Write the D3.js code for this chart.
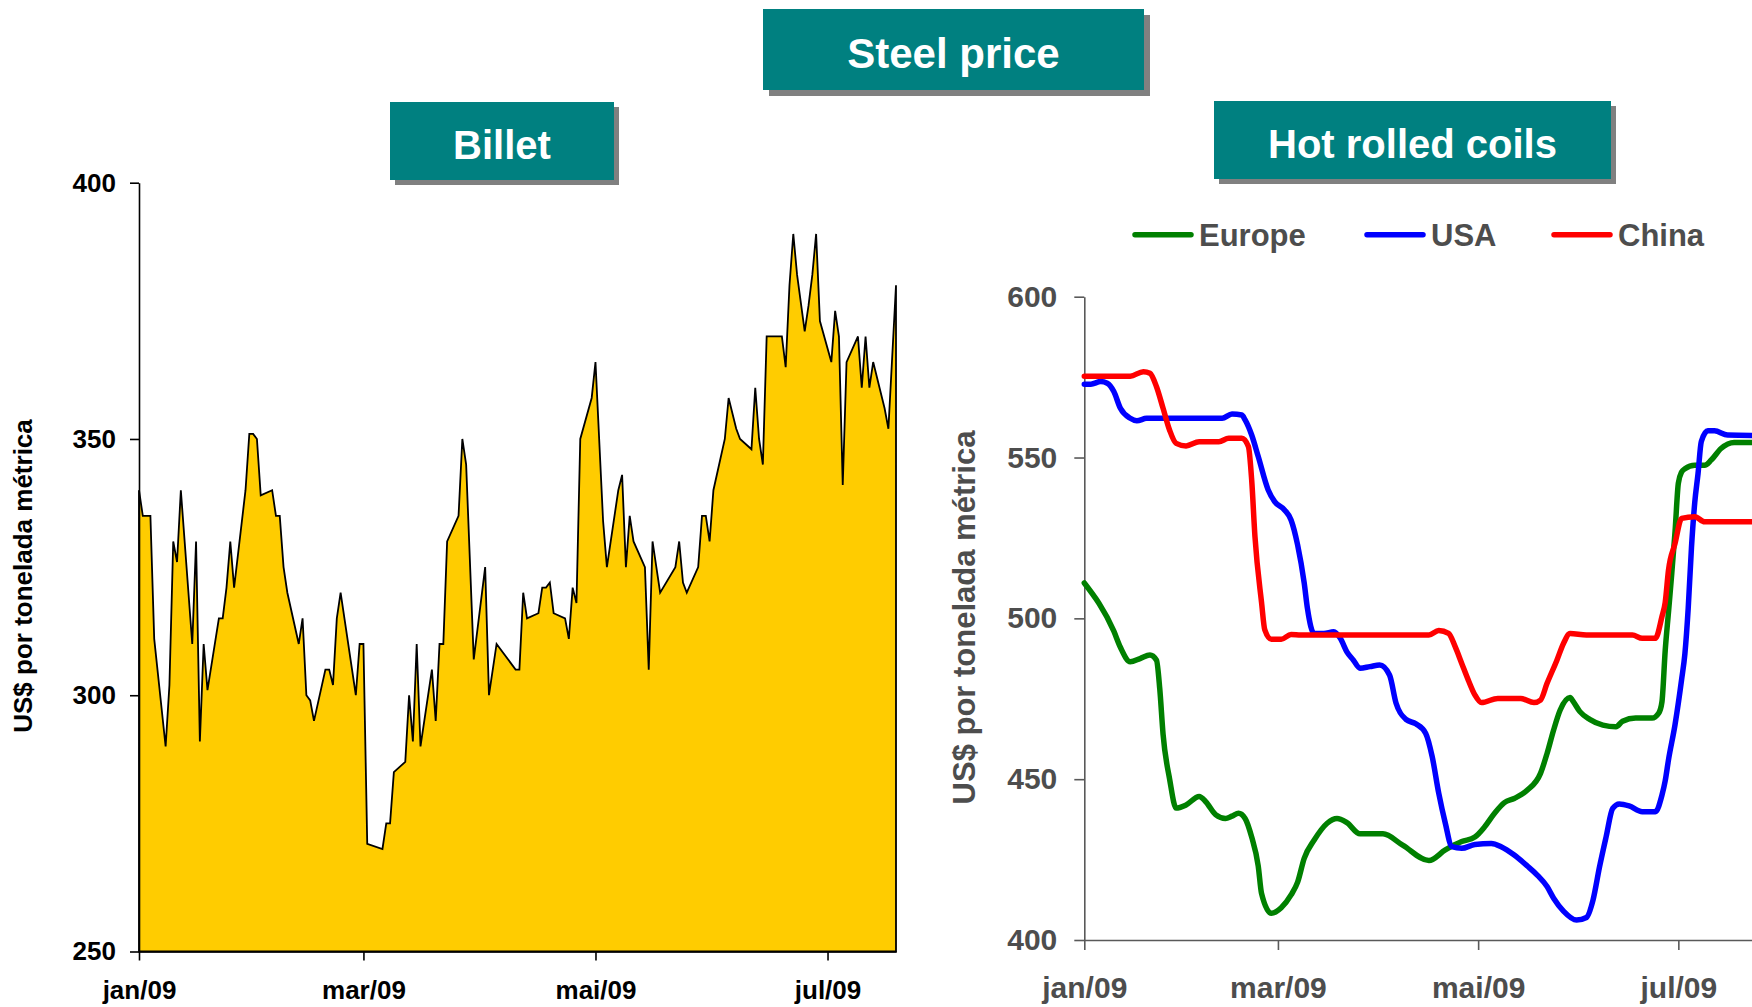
<!DOCTYPE html>
<html>
<head>
<meta charset="utf-8">
<script src="https://cdn.jsdelivr.net/npm/d3@7"></script>
<style>
  html, body { margin: 0; padding: 0; background: #fff; }
  svg { display: block; font-family: "Liberation Sans", Arial, Helvetica, sans-serif; font-weight: bold; }
</style>
</head>
<body>
<svg id="chart" width="1752" height="1007"></svg>
<script>
// ---- Billet price (US$ per metric tonne), days counted from 1 Jan 2009 ----
const billetDay = [0,1,3,4,7,8,9,10,11,14,15,16,17,18,21,22,23,24,25,28,
  29,30,31,32,35,36,37,38,39,42,43,44,45,46,49,50,51,52,53,57,
  58,59,60,64,65,66,67,70,71,72,73,74,77,78,79,80,81,84,85,86,
  88,91,92,94,99,100,101,102,105,106,107,108,109,112,113,114,115,116,119,120,
  122,123,126,127,128,129,130,133,134,135,136,137,141,142,143,144,147,148,149,150,
  151,154,155,157,158,161,162,163,164,165,169,170,171,172,173,175,176,177,178,179,
  182,183,184,185,186,189,190,191,192,193,196,197,199];
const billetPrice = [340,335,335,311,290,302,330,326,340,310,330,291,310,301,315,315,321,330,321,340,
  351,351,350,339,340,335,335,325,320,310,315,300,299,295,305,305,302,315,320,300,
  310,310,271,270,275,275,285,287,300,291,310,290,305,295,310,310,330,335,350,345,
  307,325,300,310,305,305,320,315,316,321,321,322,316,315,311,321,318,350,358,365,
  334,325,340,343,325,335,330,325,305,330,325,320,325,330,322,320,325,335,335,330,
  340,350,358,352,350,348,360,350,345,370,370,364,380,390,382,371,376,382,390,373,
  365,375,370,341,365,370,360,370,360,365,356,352,380];

// ---- Hot rolled coils (US$ per metric tonne), days counted from 1 Jan 2009 ----
const europeDay = [0,9,11,14,17,20,22,23,24,26,28,31,35,37,40,43,45,47,49,51,
  53,54,57,60,63,65,67,70,74,77,80,84,91,97,105,110,115,119,122,125,
  128,131,135,139,141,143,145,148,149,151,154,158,162,164,168,173,175,176,177,178,
  179,180,181,182,183,186,189,191,194,198,211];
const europePrice = [511,496,491,486.5,487.5,488.6,487,478,464,450,441,442,444.6,443,439,437.8,438.5,439.4,437.8,432,
  423,414.5,408.3,410,414,418,425.4,431,436.3,437.8,436.5,433,433,429.5,424.7,428,430.6,432,435.2,439.4,
  442.7,444,446.6,451.8,458,465.3,471.5,475.4,474.1,471,468.6,466.8,466.3,468,469,469,470.5,474,490,502,
  514,527,542,545.5,546.5,547.6,547.6,549.2,552.8,554.7,554.7];

const usaDay = [0,2,5,7,9,11,14,16,19,42,45,48,49,51,53,56,58,61,63,65,
  67,68,70,73,76,78,80,82,84,87,90,93,95,98,101,104,106,108,110,112,
  115,119,124,127,131,135,138,141,143,146,150,153,155,157,159,161,163,166,170,174,
  176,177,178,180,182,183,184,185,186,187,188,190,192,196,211];
const usaPrice = [572.8,572.8,573.6,573.1,570.5,565.3,562.2,561.4,562.2,562.2,563.5,563.2,561.7,557,550.3,540,536.3,533.7,530.6,522.8,
  511,503,495.3,495.3,495.8,493.8,489.6,487,484.5,485,485.5,482.4,473.6,468.6,467.2,464.3,457,445.6,436.3,429,
  428.5,429.7,430,429,426.4,423,420.2,416.6,413,409,406.2,407,412.4,422.8,432.1,440.9,442.3,441.7,439.9,439.9,
  445,449.5,456,467,481,489,503,522,536,545,555,558.3,558.3,557,556.8];

const chinaDay = [0,14,18,20,22,24,26,28,31,35,41,44,48,50,51,52,54,55,57,60,
  63,66,105,108,111,113,115,117,119,121,126,133,137,139,141,144,146,148,153,167,
  170,174,176,177,178,180,182,186,189,211];
const chinaPrice = [575.3,575.3,576.7,576.2,572,565.3,558.5,554.4,553.6,554.9,554.9,556,556,553.4,543,525.4,505,496.4,493.5,493.5,
  495,494.8,494.8,496.2,495.3,491.2,486,480.8,476.2,473.8,475.1,475.1,473.8,474.6,479.8,487,492.2,495.3,494.8,494.8,
  493.8,493.8,500.5,505,515,523.3,531.1,531.6,530,530];

const seriesNames  = ["Europe", "USA", "China"];
const seriesColors = ["#008000", "#0000ff", "#ff0000"];

// axis ticks
const monthTicks  = ["2009-01-01", "2009-03-01", "2009-05-01", "2009-07-01"];
const monthLabels = ["jan/09", "mar/09", "mai/09", "jul/09"];
const billetTicks = [250, 300, 350, 400];
const hrcTicks    = [400, 450, 500, 550, 600];
const axisTitle   = "US$ por tonelada métrica";

// ---------------------------------------------------------------------------
const svg = d3.select("#chart");
const t0 = Date.UTC(2009, 0, 1);
const toDate = d => new Date(t0 + d * 864e5);
const tickDates = monthTicks.map(s => new Date(s + "T00:00:00Z"));

function zip(days, vals) { return days.map((d, i) => ({ date: toDate(d), v: vals[i] })); }

// title banners with drop shadow
function banner(x, y, w, h, label, size, baseline, off) {
  svg.append("rect").attr("x", x + off).attr("y", y + off).attr("width", w).attr("height", h).attr("fill", "#808080");
  svg.append("rect").attr("x", x).attr("y", y).attr("width", w).attr("height", h).attr("fill", "#008080");
  svg.append("text").attr("x", x + w / 2).attr("y", baseline).attr("text-anchor", "middle")
    .attr("fill", "#fff").attr("font-size", size).text(label);
}
banner(763, 9, 381, 81, "Steel price", 42, 68, 6);
banner(390, 102, 224, 78, "Billet", 40, 159, 5);
banner(1214, 101, 397, 78, "Hot rolled coils", 40, 158, 5);

function styleAxis(g, color, width, size) {
  g.attr("font-family", null).attr("font-size", null);
  g.select(".domain").attr("stroke", color).attr("stroke-width", width);
  g.selectAll(".tick line").attr("stroke", color).attr("stroke-width", width);
  g.selectAll(".tick text").attr("fill", color === "#000" ? "#000" : "#4d4d4d")
    .attr("font-size", size).attr("font-weight", "bold");
}

// ---------------- Billet: filled area ----------------
const xL = d3.scaleUtc().domain([toDate(0), toDate(199)]).range([139, 896]);
const yL = d3.scaleLinear().domain([250, 400]).range([951.5, 182.7]);
const billet = zip(billetDay, billetPrice);

svg.append("path").datum(billet)
  .attr("d", d3.area().x(d => xL(d.date)).y0(yL(250)).y1(d => yL(d.v)))
  .attr("fill", "#ffcc00").attr("stroke", "#000").attr("stroke-width", 1.8).attr("stroke-linejoin", "miter");

const gyL = svg.append("g").attr("transform", `translate(${xL.range()[0]},0)`)
  .call(d3.axisLeft(yL).tickValues(billetTicks).tickSize(9).tickSizeOuter(0).tickPadding(14));
styleAxis(gyL, "#000", 1.6, 26);

const gxL = svg.append("g").attr("transform", `translate(0,${yL(250)})`)
  .call(d3.axisBottom(xL).tickValues(tickDates).tickFormat((d, i) => monthLabels[i]).tickSize(9).tickSizeOuter(0));
styleAxis(gxL, "#000", 1.6, 26);
gxL.selectAll(".tick text").attr("y", 47.5).attr("dy", "0");

svg.append("text").attr("transform", "translate(32,576) rotate(-90)")
  .attr("text-anchor", "middle").attr("font-size", 26).attr("fill", "#000").text(axisTitle);

// ---------------- Hot rolled coils: three lines ----------------
const xR = d3.scaleUtc().domain([toDate(0), toDate(211)]).range([1084.3, 1084.3 + 211 * 3.282]);
const yR = d3.scaleLinear().domain([400, 600]).range([940, 296.7]);

const gyR = svg.append("g").attr("transform", `translate(${xR.range()[0]},0)`)
  .call(d3.axisLeft(yR).tickValues(hrcTicks).tickSize(10).tickSizeOuter(0).tickPadding(17));
styleAxis(gyR, "#595959", 1.6, 30);

const gxR = svg.append("g").attr("transform", `translate(0,${yR(400)})`)
  .call(d3.axisBottom(xR).tickValues(tickDates).tickFormat((d, i) => monthLabels[i]).tickSize(10).tickSizeOuter(0));
styleAxis(gxR, "#595959", 1.6, 30);
gxR.selectAll(".tick text").attr("y", 58).attr("dy", "0");

svg.append("text").attr("transform", "translate(975,617.5) rotate(-90)")
  .attr("text-anchor", "middle").attr("font-size", 31).attr("fill", "#4d4d4d").text(axisTitle);

const hrc = [zip(europeDay, europePrice), zip(usaDay, usaPrice), zip(chinaDay, chinaPrice)];
const line = d3.line().x(d => xR(d.date)).y(d => yR(d.v)).curve(d3.curveMonotoneX);

svg.append("g").selectAll("path").data(hrc).join("path")
  .attr("d", line).attr("fill", "none")
  .attr("stroke", (d, i) => seriesColors[i]).attr("stroke-width", 5.5)
  .attr("stroke-linejoin", "round").attr("stroke-linecap", "round");

// legend
const legendX = [1135, 1367, 1554];
const legend = svg.append("g").selectAll("g").data(seriesNames).join("g")
  .attr("transform", (d, i) => `translate(${legendX[i]},234.7)`);
legend.append("line").attr("x1", 0).attr("x2", 56).attr("y1", 0).attr("y2", 0)
  .attr("stroke", (d, i) => seriesColors[i]).attr("stroke-width", 5.5).attr("stroke-linecap", "round");
legend.append("text").attr("x", 64).attr("y", 11.5).attr("font-size", 31).attr("fill", "#4d4d4d").text(d => d);
</script>
</body>
</html>
